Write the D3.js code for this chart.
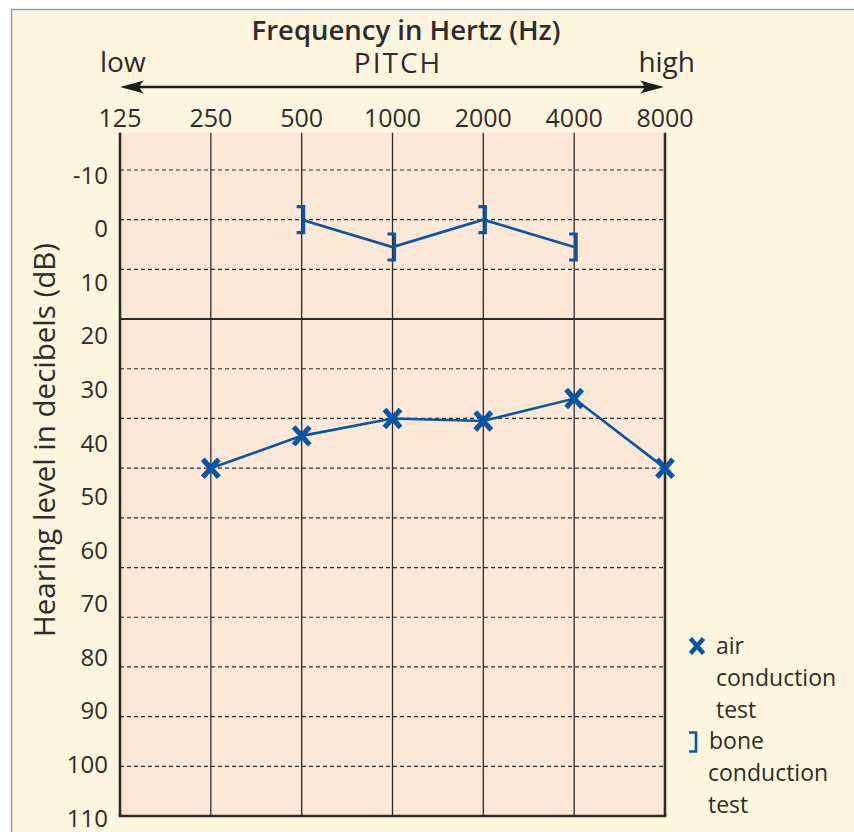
<!DOCTYPE html>
<html>
<head>
<meta charset="utf-8">
<script src="https://cdn.jsdelivr.net/npm/d3@7"></script>
<style>
  body { margin: 0; background: #fff; }
  svg text { font-family: "Open Sans", "Liberation Sans", sans-serif; fill: #2e2b2b; }
</style>
</head>
<body>
<svg id="chart" width="854" height="832"></svg>
<script>
// audiogram data
const freqs = [125, 250, 500, 1000, 2000, 4000, 8000];
const freqLabels = ["125", "250", "500", "1000", "2000", "4000", "8000"];
const airFreqs = [250, 500, 1000, 2000, 4000, 8000];
const airLevels = [50, 43.5, 40, 40.5, 36, 50];
const boneFreqs = [500, 1000, 2000, 4000];
const boneLevels = [0, 5.5, 0, 5.5];
const levelLabels = [-10, 0, 10, 20, 30, 40, 50, 60, 70, 80, 90, 100, 110];
const dashedLevels = [-10, 0, 10, 30, 40, 50, 60, 70, 80, 90, 100, 110];

const blue = "#0a55a5";
const ink = "#2e2b2b";

var svg = d3.select("#chart");

// scales
var x = d3.scaleLog().base(2).domain([125, 8000]).range([120, 665]);
var y = d3.scaleLinear().domain([-10, 120]).range([170, 816]);
// the printed labels do not sit exactly on the grid lines
var yLab = d3.scaleLinear().domain([-10, 110]).range([175, 818]);
var plotTop = y(-17.5), plotBottom = y(120);

// background frame
svg.append("rect").attr("x", 11).attr("y", 9).attr("width", 843).attr("height", 823)
  .attr("fill", "#fef5de");
svg.append("path").attr("d", "M11.5,832V9.5H854")
  .attr("fill", "none").attr("stroke", "#8e9cc9").attr("stroke-width", 1.5);

// plot area
svg.append("rect")
  .attr("x", x(125)).attr("y", plotTop)
  .attr("width", x(8000) - x(125)).attr("height", plotBottom - plotTop)
  .attr("fill", "#fde7d7");

// dashed horizontal grid
svg.append("g").selectAll("line").data(dashedLevels).enter().append("line")
  .attr("x1", x(125)).attr("x2", x(8000))
  .attr("y1", d => y(d)).attr("y2", d => y(d))
  .attr("stroke", ink).attr("stroke-width", 1.2).attr("stroke-dasharray", "4,3");

// solid line at 20 dB
svg.append("line")
  .attr("x1", x(125)).attr("x2", x(8000)).attr("y1", y(20)).attr("y2", y(20))
  .attr("stroke", ink).attr("stroke-width", 2);

// vertical frequency lines
svg.append("g").selectAll("line").data(freqs).enter().append("line")
  .attr("x1", d => x(d)).attr("x2", d => x(d))
  .attr("y1", plotTop).attr("y2", plotBottom)
  .attr("stroke", ink)
  .attr("stroke-width", (d, i) => (i == 0 || i == freqs.length - 1) ? 2.6 : 1.3);

svg.append("line")
  .attr("x1", x(125) - 1.3).attr("x2", x(8000) + 1.3).attr("y1", plotBottom).attr("y2", plotBottom)
  .attr("stroke", ink).attr("stroke-width", 2.6);

// top tick labels
svg.append("g").selectAll("text").data(freqs).enter().append("text")
  .attr("x", d => x(d)).attr("y", 127)
  .attr("text-anchor", "middle").attr("font-size", 25)
  .text((d, i) => freqLabels[i]);

// left tick labels
svg.append("g").selectAll("text").data(levelLabels).enter().append("text")
  .attr("x", 108).attr("y", d => yLab(d)).attr("dy", "0.36em")
  .attr("text-anchor", "end").attr("font-size", 24)
  .text(d => d);

// titles
svg.append("text").attr("x", 406).attr("y", 40).attr("text-anchor", "middle")
  .attr("font-size", 27.5).attr("font-weight", 600).text("Frequency in Hertz (Hz)");
svg.append("text").attr("x", 100).attr("y", 72).attr("font-size", 28).text("low");
svg.append("text").attr("x", 398).attr("y", 73).attr("text-anchor", "middle")
  .attr("font-size", 28).attr("letter-spacing", 2).text("PITCH");
svg.append("text").attr("x", 695).attr("y", 72).attr("text-anchor", "end")
  .attr("font-size", 28).text("high");

svg.append("text")
  .attr("transform", "translate(55," + 440 + ") rotate(-90)")
  .attr("text-anchor", "middle").attr("font-size", 29.5)
  .text("Hearing level in decibels (dB)");

// double headed arrow
var ay = 87, a0 = x(125), a1 = x(8000) - 1;
svg.append("line").attr("x1", a0 + 10).attr("x2", a1 - 10).attr("y1", ay).attr("y2", ay)
  .attr("stroke", "#1f1c1c").attr("stroke-width", 2.6);
function head(tip, dir) {
  return "M" + tip + "," + ay +
    "L" + (tip + dir * 24) + "," + (ay - 6.5) +
    "Q" + (tip + dir * 16) + "," + ay + " " + (tip + dir * 24) + "," + (ay + 6.5) + "Z";
}
svg.append("path").attr("d", head(a0, 1)).attr("fill", "#1f1c1c");
svg.append("path").attr("d", head(a1, -1)).attr("fill", "#1f1c1c");

// marker shapes
function xMark(cx, cy, s) {
  return "M" + (cx - s) + "," + (cy - s - 1) + "L" + (cx + s) + "," + (cy + s + 1) +
    "M" + (cx + s) + "," + (cy - s - 1) + "L" + (cx - s) + "," + (cy + s + 1);
}
function bracket(cx, cy, h) {
  return "M" + (cx - 5) + "," + (cy - h) + "H" + (cx + 2) + "V" + (cy + h) + "H" + (cx - 5);
}

var line = d3.line().x(d => x(d[0])).y(d => y(d[1]));

// bone conduction
var bone = boneFreqs.map((f, i) => [f, boneLevels[i]]);
svg.append("path").attr("d", line(bone))
  .attr("fill", "none").attr("stroke", blue).attr("stroke-width", 2.6);
svg.append("g").selectAll("path").data(bone).enter().append("path")
  .attr("d", d => bracket(x(d[0]), y(d[1]), 13))
  .attr("fill", "none").attr("stroke", blue).attr("stroke-width", 3.2);

// air conduction
var air = airFreqs.map((f, i) => [f, airLevels[i]]);
svg.append("path").attr("d", line(air))
  .attr("fill", "none").attr("stroke", blue).attr("stroke-width", 2.6);
svg.append("g").selectAll("path").data(air).enter().append("path")
  .attr("d", d => xMark(x(d[0]), y(d[1]), 8))
  .attr("fill", "none").attr("stroke", blue).attr("stroke-width", 5.2);

// legend
svg.append("path").attr("d", xMark(697, 646, 6.5))
  .attr("fill", "none").attr("stroke", blue).attr("stroke-width", 4.5);
svg.append("path").attr("d", bracket(694, 742, 9.5))
  .attr("fill", "none").attr("stroke", blue).attr("stroke-width", 2.6);

var legAir = ["air", "conduction", "test"];
var legBone = ["bone", "conduction", "test"];
svg.append("g").selectAll("text").data(legAir).enter().append("text")
  .attr("x", 716).attr("y", (d, i) => 654 + i * 32).attr("font-size", 23).text(d => d);
svg.append("g").selectAll("text").data(legBone).enter().append("text")
  .attr("x", (d, i) => i == 0 ? 709 : 708).attr("y", (d, i) => 749 + i * 32)
  .attr("font-size", 23).text(d => d);
</script>
</body>
</html>
